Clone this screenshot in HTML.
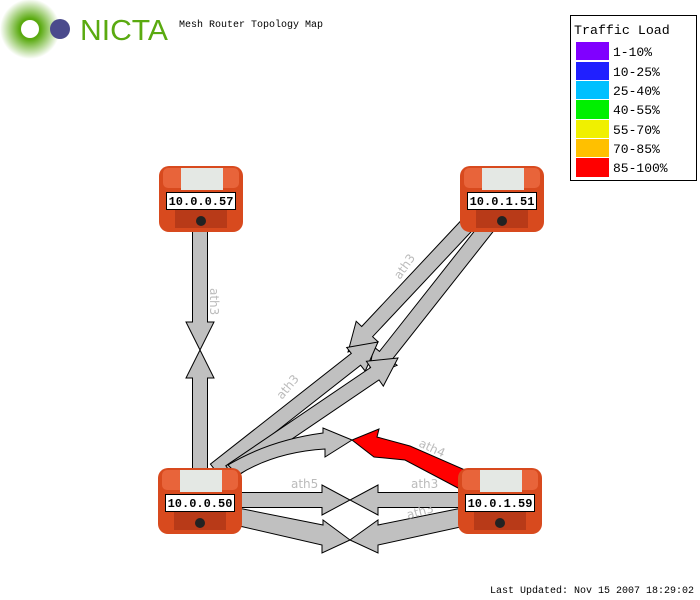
<!DOCTYPE html>
<html><head><meta charset="utf-8"><style>
body{margin:0;background:#fff;width:700px;height:600px;overflow:hidden}
svg{display:block}
.mono{font-family:"Liberation Mono","DejaVu Sans Mono",monospace}
.lbl{font-family:"DejaVu Sans","Liberation Sans",sans-serif;font-size:12px;fill:#bbb}
</style></head><body>
<svg id="s" width="700" height="600" xmlns="http://www.w3.org/2000/svg">
<defs>
<radialGradient id="glow"><stop offset="0.35" stop-color="#5aaa10"/><stop offset="1" stop-color="#5aaa10" stop-opacity="0"/></radialGradient>
</defs>
<circle cx="30" cy="29" r="30" fill="url(#glow)"/>
<circle cx="30" cy="29" r="9" fill="#fff"/>
<circle cx="60" cy="29" r="10" fill="#4a4a8c"/>
<text x="80" y="40" font-family="Liberation Sans,sans-serif" font-size="29" fill="#5aaa10" textLength="88" lengthAdjust="spacingAndGlyphs">NICTA</text>
<text x="179" y="27" class="mono" font-size="10">Mesh Router Topology Map</text>

<rect x="570.5" y="15.5" width="126" height="165" fill="#fff" stroke="#000"/>
<text x="574" y="34" class="mono" font-size="13.3">Traffic Load</text>
<g class="mono" font-size="13">
<rect x="576" y="42" width="33" height="18" fill="#8000ff"/><text x="613" y="56">1-10%</text>
<rect x="576" y="62" width="33" height="18" fill="#2020ff"/><text x="613" y="76">10-25%</text>
<rect x="576" y="81" width="33" height="18" fill="#00c0ff"/><text x="613" y="95">25-40%</text>
<rect x="576" y="100" width="33" height="19" fill="#00f000"/><text x="613" y="114">40-55%</text>
<rect x="576" y="120" width="33" height="18" fill="#f0f000"/><text x="613" y="134">55-70%</text>
<rect x="576" y="139" width="33" height="18" fill="#ffc000"/><text x="613" y="153">70-85%</text>
<rect x="576" y="158" width="33" height="19" fill="#ff0000"/><text x="613" y="172">85-100%</text>
</g>

<g id="arrows" stroke="#000" stroke-width="1" fill="#c0c0c0"></g>

<path d="M465,470 L458,488 L405,460 L374,457 L352,440 L379,429 L377,437 L410,446 Z" fill="#ff0000" stroke="#000"/>

<g class="lbl">
<text x="0" y="0" transform="translate(210,288) rotate(90)">ath3</text>
<text x="0" y="0" transform="translate(400,280) rotate(-55)">ath3</text>
<text x="0" y="0" transform="translate(282,400) rotate(-50)">ath3</text>
<text x="0" y="0" transform="translate(418,446) rotate(25)">ath4</text>
<text x="291" y="488">ath5</text>
<text x="411" y="488">ath3</text>
<text x="0" y="0" transform="translate(408,519) rotate(-15)">ath3</text>
</g>

<g id="nodes"></g>
<text x="490" y="593" class="mono" font-size="10">Last Updated: Nov 15 2007 18:29:02</text>
</svg>
<script>
var NS="http://www.w3.org/2000/svg";
function arrow(x1,y1,x2,y2,sw,hw,hl){
 var dx=x2-x1,dy=y2-y1,L=Math.sqrt(dx*dx+dy*dy),ux=dx/L,uy=dy/L,px=-uy,py=ux;
 var bx=x2-ux*hl,by=y2-uy*hl;
 var pts=[[x1+px*sw/2,y1+py*sw/2],[bx+px*sw/2,by+py*sw/2],[bx+px*hw/2,by+py*hw/2],[x2,y2],
 [bx-px*hw/2,by-py*hw/2],[bx-px*sw/2,by-py*sw/2],[x1-px*sw/2,y1-py*sw/2]];
 var p=document.createElementNS(NS,"polygon");
 p.setAttribute("points",pts.map(function(a){return a[0].toFixed(1)+","+a[1].toFixed(1)}).join(" "));
 document.getElementById("arrows").appendChild(p);
}
function path(d){var p=document.createElementNS(NS,"path");p.setAttribute("d",d);document.getElementById("arrows").appendChild(p);}
arrow(200,225,200,350,15,28,28);
arrow(200,470,200,350,15,28,28);
arrow(470,222,348,352,15,30,28);
arrow(488,226,368,378,15,30,28);
arrow(215,470,378,342,15,30,28);
arrow(230,472,398,358,15,30,28);
arrow(240,500,350,500,15,30,28);
arrow(460,500,350,500,15,30,28);
path("M228,465 Q270,440 323,433 L323,428 L352,440 L325,457 L325,449 Q275,452 238,475 Z");
path("M238,508 L323,525 L323,520 L350,540 L322,553 L322,545 L235,525 Z");
path("M462,508 L378,525 L378,520 L350,540 L378,553 L378,545 L465,526 Z");
function node(cx,cy,label){
 var g=document.getElementById("nodes");
 g.insertAdjacentHTML("beforeend",
 '<rect x="'+(cx-42)+'" y="'+(cy-30)+'" width="84" height="66" rx="10" fill="#d84a1e"/>'+
 '<rect x="'+(cx-38)+'" y="'+(cy-28)+'" width="76" height="20" rx="5" fill="#e8643a"/>'+
 '<rect x="'+(cx-20)+'" y="'+(cy-28)+'" width="42" height="22" fill="#e4e8e4"/>'+
 '<rect x="'+(cx-26)+'" y="'+(cy+10)+'" width="52" height="22" fill="#b83a18"/>'+
 '<circle cx="'+cx+'" cy="'+(cy+25)+'" r="5" fill="#222"/>'+
 '<rect x="'+(cx-34.5)+'" y="'+(cy-3.5)+'" width="69" height="17" fill="#fff" stroke="#000"/>'+
 '<text x="'+cx+'" y="'+(cy+9)+'" text-anchor="middle" class="mono" font-size="12" font-weight="bold">'+label+'</text>');
}
node(201,196,"10.0.0.57");
node(502,196,"10.0.1.51");
node(200,498,"10.0.0.50");
node(500,498,"10.0.1.59");
</script>
</body></html>
